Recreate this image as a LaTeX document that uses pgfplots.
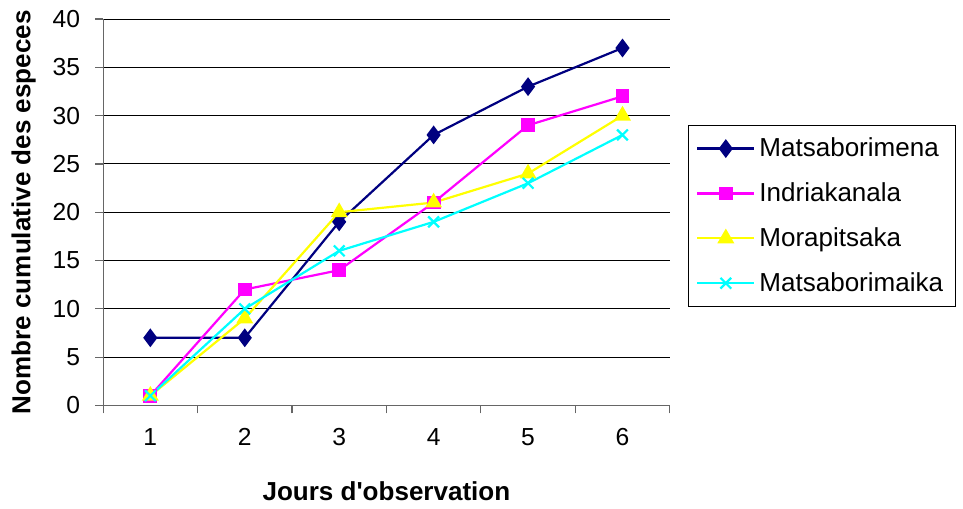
\documentclass[border=0pt]{standalone}
\usepackage{pgfplots}
\pgfplotsset{compat=1.18}
\usepackage{fontspec}
\setmainfont{Liberation Sans}[Ligatures=TeXOff]
\definecolor{cnavy}{HTML}{000080}
\definecolor{cmag}{HTML}{FF00FF}
\definecolor{cyel}{HTML}{FFFF00}
\definecolor{ccya}{HTML}{00FFFF}
\begin{document}
\begin{tikzpicture}
\path[use as bounding box] (-51.5pt,-51.5pt) rectangle (429.5pt,202.5pt);
\begin{axis}[
  scale only axis,
  width=283pt, height=193pt,
  xmin=0.5, xmax=6.5, ymin=0, ymax=40,
  axis x line*=bottom, axis y line*=left,
  axis line style={draw=gray!80!black, line width=0.6pt},
  xtick={0.5,1.5,...,6.5}, xticklabels={},
  extra x ticks={1,2,3,4,5,6},
  extra x tick style={major tick length=0pt, xticklabel style={yshift=-8pt}},
  ytick={0,5,...,40},
  ymajorgrids, grid style={black, line width=0.5pt},
  tick align=outside, major tick length=4pt,
  tick style={gray!80!black, line width=0.6pt},
  tick label style={font=\fontsize{12.3}{14}\selectfont},
  /pgf/number format/assume math mode=true,
  yticklabel style={xshift=-4pt},
  xlabel={\bfseries Jours d'observation},
  ylabel={\bfseries Nombre cumulative des especes},
  label style={font=\fontsize{13}{15}\selectfont},
  xlabel style={yshift=-7pt},
  ylabel style={yshift=1.5pt},
  legend style={at={(292pt,140pt)}, anchor=north west, draw=black, line width=0.5pt,
    font=\fontsize{13}{15}\selectfont, row sep=7.5pt, inner sep=4pt,
    cells={anchor=west}},
  legend image code/.code={
    \draw[mark repeat=2,mark phase=2] plot coordinates {(0cm,0cm) (0.5cm,0cm) (1cm,0cm)};},
  every axis plot/.append style={line width=1.1pt},
]
\addplot[cnavy, mark=diamond*, mark size=3.8pt, mark options={fill=cnavy}] coordinates {(1,7) (2,7) (3,19) (4,28) (5,33) (6,37)};
\addlegendentry{Matsaborimena}
\addplot[cmag, mark=square*, mark size=2.9pt, mark options={fill=cmag}] coordinates {(1,1) (2,12) (3,14) (4,21) (5,29) (6,32)};
\addlegendentry{Indriakanala}
\addplot[cyel, mark=triangle*, mark size=3.8pt, mark options={fill=cyel}] coordinates {(1,1) (2,9) (3,20) (4,21) (5,24) (6,30)};
\addlegendentry{Morapitsaka}
\addplot[ccya, mark=x, mark size=3.8pt] coordinates {(1,1) (2,10) (3,16) (4,19) (5,23) (6,28)};
\addlegendentry{Matsaborimaika}
\end{axis}
\end{tikzpicture}
\end{document}
